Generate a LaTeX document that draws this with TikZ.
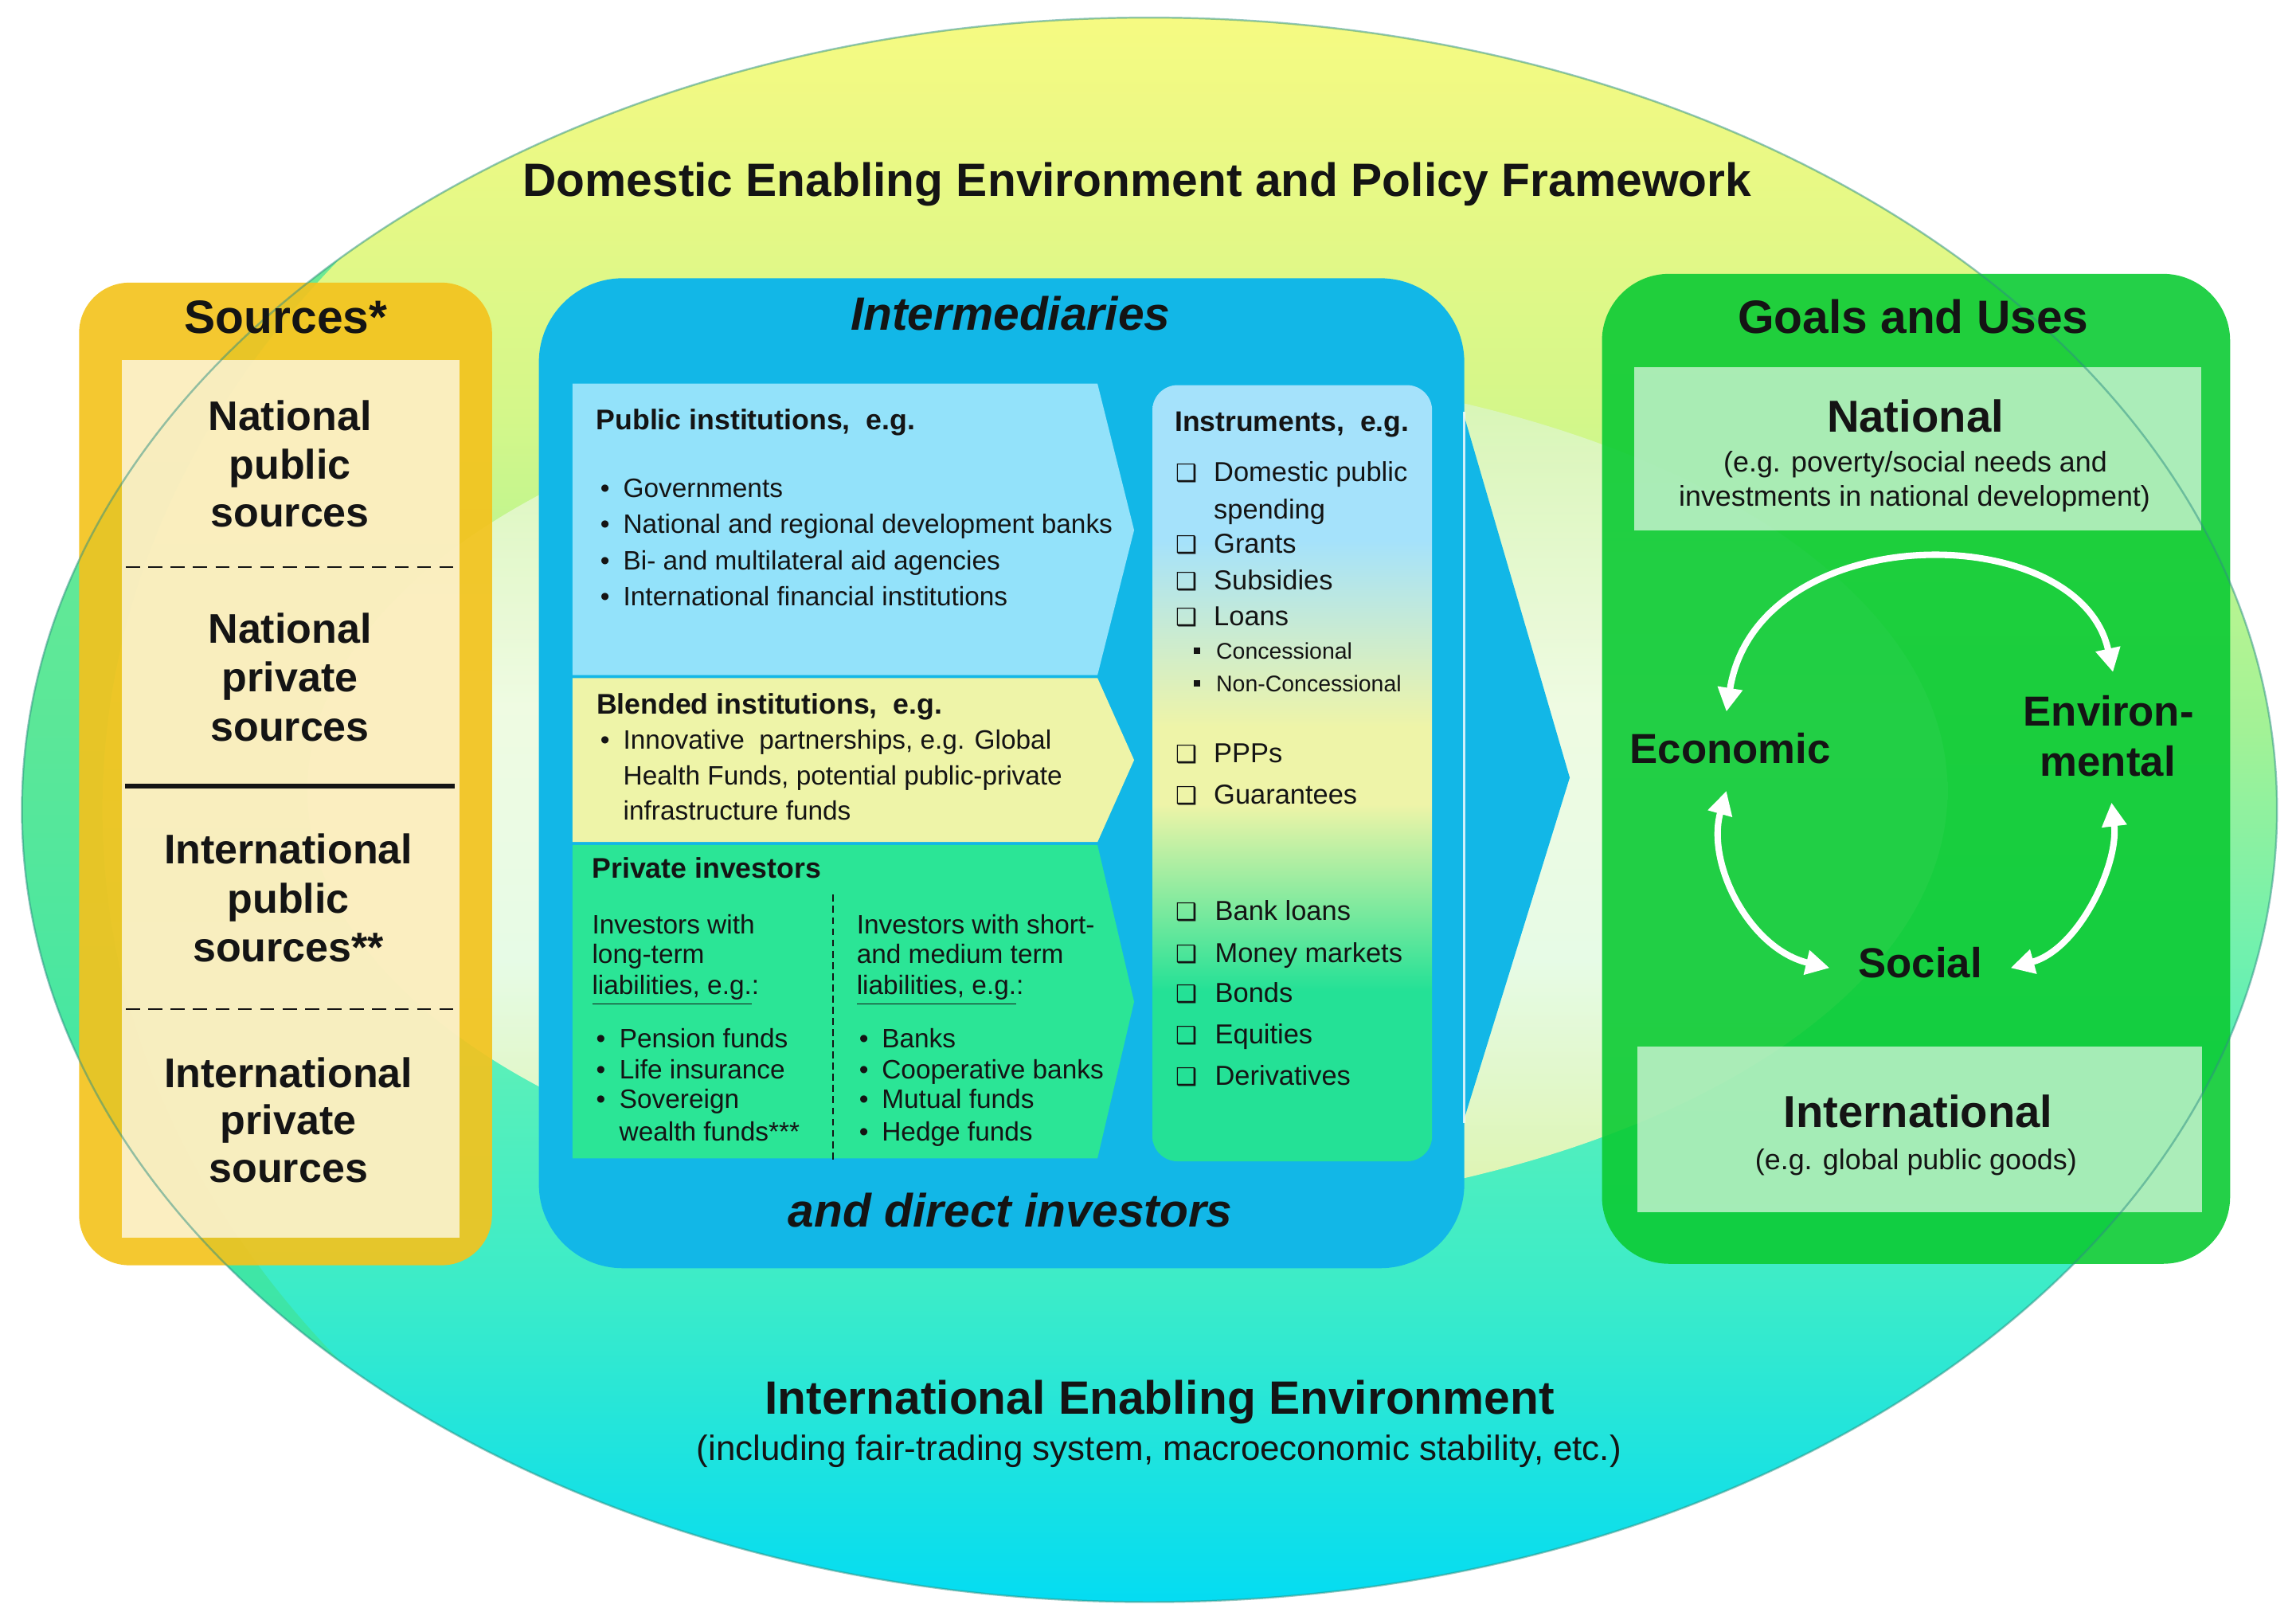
\documentclass[tikz,border=0pt]{standalone}
\usepackage{fontspec}
\setmainfont{Liberation Sans}
\newfontfamily\dejavu{DejaVu Sans}
\usetikzlibrary{arrows.meta}
\definecolor{oc1}{HTML}{F6FA82}
\definecolor{oc2}{HTML}{D4F78A}
\definecolor{oc3}{HTML}{A2F296}
\definecolor{oc4}{HTML}{5CF0B8}
\definecolor{oc5}{HTML}{3CECC8}
\definecolor{oc6}{HTML}{04DCF2}
\pgfdeclareverticalshading{outershade}{100bp}{color(0bp)=(oc6); color(25bp)=(oc6); color(35bp)=(oc5); color(42.5bp)=(oc4); color(52.5bp)=(oc3); color(62.5bp)=(oc2); color(75bp)=(oc1); color(100bp)=(oc1)}
\definecolor{ic1}{HTML}{D6F5BA}
\definecolor{ic2}{HTML}{FCFDF0}
\definecolor{ic3}{HTML}{F8F6A8}
\pgfdeclareverticalshading{innershade}{100bp}{color(0bp)=(ic3); color(25bp)=(ic3); color(40bp)=(ic2); color(55bp)=(ic2); color(75bp)=(ic1); color(100bp)=(ic1)}
\definecolor{n1}{HTML}{A5E2FB}
\definecolor{n2}{HTML}{EEF4A8}
\definecolor{n3}{HTML}{24E196}
\pgfdeclareverticalshading{instshade}{100bp}{color(0bp)=(n3); color(25bp)=(n3); color(36bp)=(n3); color(48bp)=(n2); color(53bp)=(n2); color(65bp)=(n1); color(75bp)=(n1); color(100bp)=(n1)}
\definecolor{crescg}{HTML}{40E49A}
\definecolor{srcgold}{HTML}{F3C31E}
\definecolor{intblue}{HTML}{12B7E7}
\definecolor{pubblue}{HTML}{93E2FA}
\definecolor{blendy}{HTML}{EEF4A8}
\definecolor{privg}{HTML}{2BE596}
\definecolor{goalg}{HTML}{0CCB34}
\definecolor{ink}{HTML}{141414}
\definecolor{rimc}{HTML}{2E8F84}
\newcommand\instbox{{\dejavu\fontsize{8.6}{10}\selectfont ❑}}
\newcommand\smsq{\raisebox{1.8pt}{\rule{2.4pt}{2.4pt}}}
\newcommand\blt[1]{\makebox[#1][l]{\textbullet}}
\begin{document}
\begin{tikzpicture}[x=0.18387mm, y=-0.18387mm,
  txl/.style={inner sep=0pt, anchor=base west, text=ink},
  txc/.style={inner sep=0pt, anchor=base, text=ink},
  fT/.style={font=\fontsize{16.7}{20}\selectfont\bfseries},
  fS/.style={font=\fontsize{14.8}{18}\selectfont\bfseries},
  fH/.style={font=\fontsize{10.15}{12}\selectfont\bfseries},
  fB/.style={font=\fontsize{9.5}{12}\selectfont},
  fI/.style={font=\fontsize{9.8}{12}\selectfont},
  fIH/.style={font=\fontsize{10.1}{12}\selectfont\bfseries},
  fsub/.style={font=\fontsize{8.1}{10}\selectfont},
  fG/.style={font=\fontsize{16}{19}\selectfont\bfseries},
  fg/.style={font=\fontsize{10.2}{12}\selectfont},
  fC/.style={font=\fontsize{15}{18}\selectfont\bfseries},
  fE/.style={font=\fontsize{12.5}{15}\selectfont},
  srcdash/.style={draw=ink, line width=0.8pt, dash pattern=on 5pt off 3pt},
  warr/.style={draw=white, line width=2.3pt, {Triangle[length=8.5pt,width=8.5pt]}-{Triangle[length=8.5pt,width=8.5pt]}}
]
\useasboundingbox (0,0) rectangle (1568,1106);
% background ellipses
\path[shading=outershade] (785,553) ellipse [x radius=141.58mm, y radius=99.47mm];
\begin{scope}
  \clip (785,553) ellipse [x radius=141.58mm, y radius=99.47mm];
  \path[fill=crescg, fill opacity=0.72, even odd rule] (785,553) ellipse [x radius=141.58mm, y radius=99.47mm]
        (860,553) ellipse [x radius=145.26mm, y radius=114mm];
\end{scope}
\path[shading=innershade, opacity=0.85] (770,540) ellipse [x radius=102.97mm, y radius=53.32mm];
% sources column
\path[fill=srcgold, fill opacity=0.92, rounded corners=18pt] (54,193) rectangle (336,864);
\path[fill=white, fill opacity=0.7] (83,246) rectangle (314,845);
% intermediaries column
\path[fill=intblue, rounded corners=30pt] (368,190) rectangle (1000,866);
\path[fill=intblue] (999,281) -- (1072,531) -- (999,767) -- cycle;
\draw[white, line width=0.7pt, opacity=0.8] (1000,281) -- (1000,767);
\path[fill=pubblue] (391,262) -- (749.5,262) -- (774.5,362) -- (749.5,461) -- (391,461) -- cycle;
\path[fill=blendy] (391,463) -- (749.5,463) -- (774.5,519) -- (749.5,575) -- (391,575) -- cycle;
\path[fill=privg] (391,577) -- (749.5,577) -- (774.5,684) -- (749.5,791) -- (391,791) -- cycle;
\path[shading=instshade, rounded corners=9pt] (787,263) rectangle (978,793);
\draw[ink, line width=0.7pt, dash pattern=on 2.5pt off 1.5pt] (569,611) -- (569,792);
% goals column
\path[fill=goalg, fill opacity=0.9, rounded corners=24pt] (1094,187) rectangle (1523,863);
\path[fill=white, fill opacity=0.62] (1116,250.5) rectangle (1503,362.4);
\path[fill=white, fill opacity=0.62] (1118,714.4) rectangle (1504,827.6);
% rim of the big ellipse seen through the columns
\draw[rimc, line width=0.7pt, opacity=0.5] (785,553) ellipse [x radius=141.58mm, y radius=99.47mm];

% titles
\node[txc,fT] (title) at (776.5,134.2) {Domestic Enabling Environment and Policy Framework};
\node[txc,fT] (srct) at (195.2,227.5) {Sources*};
\node[txc,fT] (intt) at (690,225.7) {\itshape Intermediaries};
\node[txc,fT] (goalt) at (1306.5,227.4) {Goals and Uses};
\node[txc,fT] (direct) at (690,838) {\itshape and direct investors};
\node[txc,fT] (intenv) at (792,965.8) {International Enabling Environment};
\node[txc,fE] (intenvsub) at (791.5,997.2) {(including fair-trading system, macroeconomic stability, etc.)};

% sources
\node[txc,fS] (s1a) at (198,294) {National};
\node[txc,fS] (s1b) at (198,327.3) {public};
\node[txc,fS] (s1c) at (198,360) {sources};
\draw[srcdash] (86,387.2) -- (312,387.2);
\node[txc,fS] (s2a) at (198,439.2) {National};
\node[txc,fS] (s2b) at (198,472.5) {private};
\node[txc,fS] (s2c) at (198,505.8) {sources};
\draw[ink, line width=1.6pt] (85.3,536.8) -- (310.8,536.8);
\node[txc,fS] (s3a) at (197,590) {International};
\node[txc,fS] (s3b) at (197,623.3) {public};
\node[txc,fS] (s3c) at (197,656.7) {sources**};
\draw[srcdash] (86,689.1) -- (312,689.1);
\node[txc,fS] (s4a) at (197,742.4) {International};
\node[txc,fS] (s4b) at (197,775) {private};
\node[txc,fS] (s4c) at (197,807.6) {sources};

% public institutions
\node[txl,fH] (pubh) at (406.8,293.2) {Public institutions,\ \ e.g.};
\node[txl,fB] (pub1) at (409.6,339.4) {\blt{8.2pt}Governments};
\node[txl,fB] (pub2) at (409.6,364.2) {\blt{8.2pt}National and regional development banks};
\node[txl,fB] (pub3) at (409.6,388.9) {\blt{8.2pt}Bi- and multilateral aid agencies};
\node[txl,fB] (pub4) at (409.6,413.6) {\blt{8.2pt}International financial institutions};
% blended
\node[txl,fH] (blh) at (407,487.8) {Blended institutions,\ \ e.g.};
\node[txl,fB] (bl1) at (409.6,511.4) {\blt{8.2pt}Innovative\ \ partnerships, e.g. Global};
\node[txl,fB] (bl2) at (425.3,536.2) {Health Funds, potential public-private};
\node[txl,fB] (bl3) at (425.3,559.9) {infrastructure funds};
% private investors
\node[txl,fH] (prh) at (404,599.6) {Private investors};
\node[txl,fB] (pl1) at (404,637.5) {Investors with};
\node[txl,fB] (pl2) at (404,657.9) {long-term};
\node[txl,fB] (pl3) at (404,679.2) {\underline{liabilities, e.g.}:};
\node[txl,fB] (pl4) at (406.8,715.2) {\blt{8.3pt}Pension funds};
\node[txl,fB] (pl5) at (406.8,736.5) {\blt{8.3pt}Life insurance};
\node[txl,fB] (pl6) at (406.8,756.9) {\blt{8.3pt}Sovereign};
\node[txl,fB] (pl7) at (422.6,779.3) {wealth funds***};
\node[txl,fB] (pr1) at (584.7,637.5) {Investors with short-};
\node[txl,fB] (pr2) at (584.7,657.9) {and medium term};
\node[txl,fB] (pr3) at (584.7,679.2) {\underline{liabilities, e.g.}:};
\node[txl,fB] (pr4) at (586.4,715.2) {\blt{8.1pt}Banks};
\node[txl,fB] (pr5) at (586.4,736.5) {\blt{8.1pt}Cooperative banks};
\node[txl,fB] (pr6) at (586.4,756.9) {\blt{8.1pt}Mutual funds};
\node[txl,fB] (pr7) at (586.4,779.3) {\blt{8.1pt}Hedge funds};
% instruments
\node[txl,fIH] (insh) at (802,294.4) {Instruments,\ \ e.g.};
\node[txl,fI] (in1) at (802.6,328.7) {\makebox[13.6pt][l]{\instbox}Domestic public};
\node[txl,fI] (in1b) at (828.6,354.5) {spending};
\node[txl,fI] (in2) at (802.6,377.5) {\makebox[13.6pt][l]{\instbox}Grants};
\node[txl,fI] (in3) at (802.6,403) {\makebox[13.6pt][l]{\instbox}Subsidies};
\node[txl,fI] (in4) at (802.6,427) {\makebox[13.6pt][l]{\instbox}Loans};
\node[txl,fsub] (in4a) at (814.7,450) {\makebox[8.1pt][l]{\smsq}Concessional};
\node[txl,fsub] (in4b) at (814.7,472.3) {\makebox[8.1pt][l]{\smsq}Non-Concessional};
\node[txl,fI] (in5) at (802.6,520.8) {\makebox[13.6pt][l]{\instbox}PPPs};
\node[txl,fI] (in6) at (802.6,549.1) {\makebox[13.6pt][l]{\instbox}Guarantees};
\node[txl,fI] (in7) at (802.6,628.7) {\makebox[14pt][l]{\instbox}Bank loans};
\node[txl,fI] (in8) at (802.6,657) {\makebox[14pt][l]{\instbox}Money markets};
\node[txl,fI] (in9) at (802.6,684.6) {\makebox[14pt][l]{\instbox}Bonds};
\node[txl,fI] (in10) at (802.6,713) {\makebox[14pt][l]{\instbox}Equities};
\node[txl,fI] (in11) at (802.6,741.2) {\makebox[14pt][l]{\instbox}Derivatives};

% goals
\node[txc,fG] (gnat) at (1308,294.9) {National};
\node[txc,fg] (gnat1) at (1308,322.5) {(e.g. poverty/social needs and};
\node[txc,fg] (gnat2) at (1307.5,345.9) {investments in national development)};
\node[txc,fG] (gint) at (1310,770) {International};
\node[txc,fg] (gint1) at (1308.5,798.8) {(e.g. global public goods)};
\node[txc,fC] (eco) at (1181.7,521.3) {Economic};
\node[txc,fC] (env) at (1440,495.5) {Environ-};
\node[txc,fC] (env2) at (1439.5,530.2) {mental};
\node[txc,fC] (soc) at (1311.3,667.8) {Social};
% cycle arrows
\coordinate (ecoT) at (1179,486);
\coordinate (envT) at (1443,459);
\coordinate (ecoB) at (1179,540);
\coordinate (socL) at (1249.5,661);
\coordinate (envB) at (1442,548);
\coordinate (socR) at (1373,661);
\draw[warr] (ecoT) .. controls (1200,353) and (1420,353) .. (envT);
\draw[warr] (ecoB) .. controls (1165,590) and (1195,648) .. (socL);
\draw[warr] (envB) .. controls (1447,590) and (1420,648) .. (socR);
\end{tikzpicture}
\end{document}
